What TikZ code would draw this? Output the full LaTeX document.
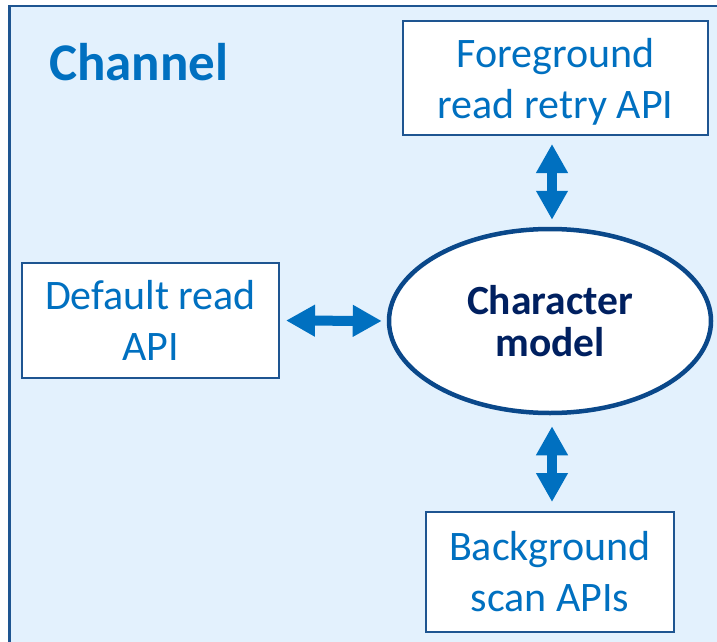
\documentclass[tikz,border=0pt]{standalone}
\usepackage{fontspec}
\setmainfont{Carlito}
\usetikzlibrary{shapes.geometric,arrows.meta}
\definecolor{framefill}{RGB}{227,241,253}
\definecolor{frameline}{RGB}{30,85,145}
\definecolor{boxline}{RGB}{30,85,145}
\definecolor{ellline}{RGB}{10,72,138}
\definecolor{textblue}{RGB}{0,112,192}
\definecolor{navy}{RGB}{0,32,96}
\tikzset{
  apibox/.style={draw=boxline, line width=2pt, fill=white, rectangle, inner sep=0pt,
    align=center, text=textblue, font=\fontsize{42}{51}\selectfont},
  charell/.style={draw=ellline, line width=4.5pt, fill=white, ellipse, inner sep=0pt,
    align=center, text=navy, font=\bfseries\fontsize{41.5}{42}\selectfont},
  dblarrow/.style={draw=textblue, line width=10pt,
    {Triangle[length=29pt,width=30pt]}-{Triangle[length=29pt,width=30pt]}}
}
\begin{document}
\begin{tikzpicture}[x=1pt,y=-1pt]
\useasboundingbox (0,0) rectangle (717,642);
\clip (0,0) rectangle (717,642);
\draw[draw=frameline, fill=framefill, line width=2.5pt] (9.5,6) rectangle (740,670);
\node[anchor=base west, text=textblue, font=\bfseries\fontsize{53}{60}\selectfont, inner sep=0pt] (title) at (49,81) {Channel};
\node[apibox, minimum width=305pt, minimum height=114pt] (fg) at (555.5,78) {\rule{0pt}{36pt}Foreground\\read retry API};
\node[apibox, minimum width=257pt, minimum height=115pt] (def) at (150.5,320.5) {Default read\\API};
\node[apibox, minimum width=248pt, minimum height=120pt] (bg) at (550,572) {Background\\scan APIs};
\node[charell, minimum width=322pt, minimum height=184pt] (cm) at (550,321) {Character\\model};
\draw[dblarrow, shorten <=6pt, shorten >=5pt] (def.east) -- (cm.west);
\draw[dblarrow, shorten <=8pt, shorten >=7pt] (fg.south -| 552,0) -- (cm.north -| 552,0);
\draw[dblarrow, shorten <=11pt, shorten >=9pt] (cm.south -| 552,0) -- (bg.north -| 552,0);
\end{tikzpicture}
\end{document}
